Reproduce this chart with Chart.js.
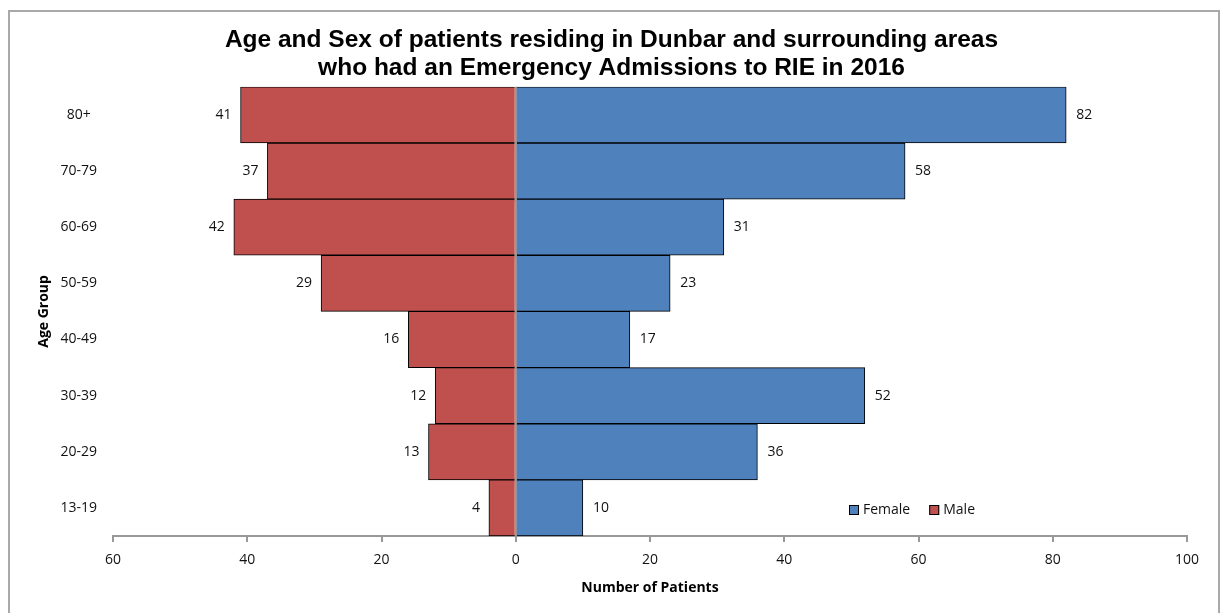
<!DOCTYPE html>
<html>
<head>
<meta charset="utf-8">
<script src="https://cdn.jsdelivr.net/npm/chart.js@4/dist/chart.umd.min.js"></script>
<style>
  html, body { margin: 0; padding: 0; background: #fff; }
  #wrap { position: relative; width: 1223px; height: 613px; overflow: hidden; }
  #wrap canvas { position: absolute; left: 0; top: 0; }
  #frame { position: absolute; left: 8px; top: 10px; width: 1208px; height: 640px;
           border: 2px solid #a9a9a9; pointer-events: none; }
</style>
</head>
<body>
<div id="wrap">
  <canvas id="chart" width="1223" height="613"></canvas>
  <div id="frame"></div>
</div>
<script>
// Age groups, top row first
const ageGroups = ['80+', '70-79', '60-69', '50-59', '40-49', '30-39', '20-29', '13-19'];
// Emergency admissions per age group
const femaleCounts = [82, 58, 31, 23, 17, 52, 36, 10];
const maleCounts = [41, 37, 42, 29, 16, 12, 13, 4];
// Patient-count axis
const axisMin = -60;
const axisMax = 100;
const axisStep = 20;

const titleLines = [
  'Age and Sex of patients residing in Dunbar and surrounding areas',
  'who had an Emergency Admissions to RIE in 2016'
];

const FEMALE_COLOR = '#4f81bd';
const MALE_COLOR = '#c0504d';
const AXIS_GREY = '#999999';
const TEXT_FONT = "'Open Sans', sans-serif";

// Value labels at the outer end of each bar
const valueLabels = {
  id: 'valueLabels',
  afterDatasetsDraw(chart) {
    const ctx = chart.ctx;
    ctx.save();
    ctx.font = '14px ' + TEXT_FONT;
    ctx.fillStyle = '#111';
    ctx.textBaseline = 'middle';
    chart.data.datasets.forEach((ds, di) => {
      const meta = chart.getDatasetMeta(di);
      meta.data.forEach((bar, i) => {
        const v = ds.counts[i];
        if (ds.side === 'left') {
          ctx.textAlign = 'right';
          ctx.fillText(String(v), bar.x - 9, bar.y);
        } else {
          ctx.textAlign = 'left';
          ctx.fillText(String(v), bar.x + 10, bar.y);
        }
      });
    });
    ctx.restore();
  }
};

// Legend placed inside the plot, lower right
const insideLegend = {
  id: 'insideLegend',
  afterDraw(chart) {
    const ctx = chart.ctx;
    ctx.save();
    ctx.font = '14px ' + TEXT_FONT;
    ctx.textBaseline = 'middle';
    ctx.textAlign = 'left';
    let x = 849;
    const y = 510;
    chart.data.datasets.forEach(ds => {
      ctx.fillStyle = ds.backgroundColor;
      ctx.fillRect(x, y - 5, 10, 10);
      ctx.strokeStyle = '#000';
      ctx.lineWidth = 1;
      ctx.strokeRect(x + 0.5, y - 4.5, 9, 9);
      ctx.fillStyle = '#111';
      ctx.fillText(ds.label, x + 14, y);
      x += 14 + ctx.measureText(ds.label).width + 19;
    });
    ctx.restore();
  }
};

new Chart(document.getElementById('chart'), {
  type: 'bar',
  data: {
    labels: ageGroups,
    datasets: [
      {
        label: 'Female',
        data: femaleCounts,
        counts: femaleCounts,
        side: 'right',
        backgroundColor: FEMALE_COLOR,
        borderColor: '#000',
        borderWidth: 1,
        borderSkipped: 'start',
        barPercentage: 1,
        categoryPercentage: 1
      },
      {
        label: 'Male',
        data: maleCounts.map(v => -v),
        counts: maleCounts,
        side: 'left',
        backgroundColor: MALE_COLOR,
        borderColor: '#000',
        borderWidth: 1,
        borderSkipped: 'start',
        barPercentage: 1,
        categoryPercentage: 1
      }
    ]
  },
  options: {
    indexAxis: 'y',
    responsive: false,
    animation: false,
    devicePixelRatio: 1,
    layout: { padding: { left: 36, right: 36, top: 0, bottom: 0 } },
    plugins: {
      legend: { display: false },
      tooltip: { enabled: false },
      title: {
        display: true,
        text: titleLines,
        color: '#000',
        font: { family: "'Liberation Sans', Arial, sans-serif", size: 24.5, weight: 'bold', lineHeight: 1.14 },
        padding: { top: 26, bottom: 5 }
      }
    },
    scales: {
      x: {
        stacked: true,
        min: axisMin,
        max: axisMax,
        z: 1,
        afterFit(scale) { scale.height = 77; },
        ticks: {
          stepSize: axisStep,
          padding: 10,
          color: '#111',
          font: { family: TEXT_FONT, size: 14 },
          callback: v => Math.abs(v)
        },
        grid: {
          drawOnChartArea: true,
          drawTicks: true,
          tickLength: 6,
          color: c => (c.tick && c.tick.value === 0 ? AXIS_GREY : 'rgba(0,0,0,0)'),
          lineWidth: 2,
          tickColor: AXIS_GREY,
          tickWidth: 2
        },
        border: { display: true, color: AXIS_GREY, width: 2 },
        title: {
          display: true,
          text: 'Number of Patients',
          color: '#000',
          font: { family: TEXT_FONT, size: 14, weight: 'bold' },
          padding: { top: 0, bottom: 17 }
        }
      },
      y: {
        stacked: true,
        afterFit(scale) { scale.width = 77; },
        ticks: {
          crossAlign: 'center',
          padding: 16,
          color: '#111',
          font: { family: TEXT_FONT, size: 14 }
        },
        grid: { display: false, drawTicks: false },
        border: { display: false },
        title: {
          display: true,
          text: 'Age Group',
          color: '#000',
          font: { family: TEXT_FONT, size: 14, weight: 'bold' },
          padding: { top: 0, bottom: 0 }
        }
      }
    }
  },
  plugins: [valueLabels, insideLegend]
});
</script>
</body>
</html>
